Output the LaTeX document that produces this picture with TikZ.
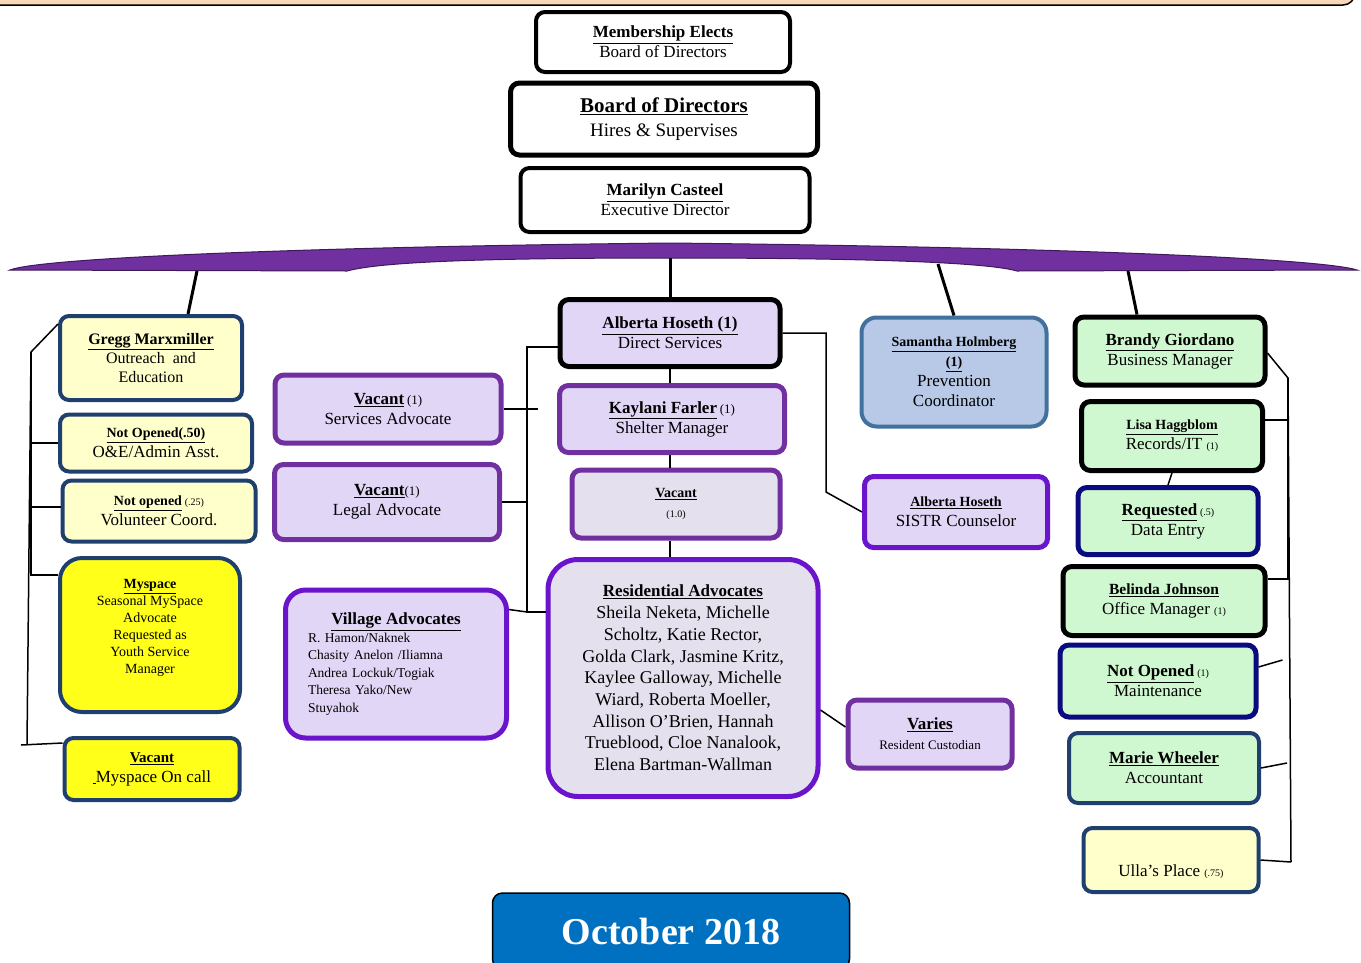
\documentclass[tikz,border=0pt]{standalone}
\usepackage{fontspec}
\setmainfont{Liberation Serif}

\definecolor{peach}{HTML}{FBD7B8}
\definecolor{archpurple}{HTML}{7030A0}
\definecolor{navy}{HTML}{1F3F6E}
\definecolor{deepnavy}{HTML}{0B0B80}
\definecolor{paleyellow}{HTML}{FFFFCC}
\definecolor{brightyellow}{HTML}{FFFF1A}
\definecolor{lav}{HTML}{E2D6F7}
\definecolor{greylav}{HTML}{E5E0EE}
\definecolor{violet}{HTML}{6A14CC}
\definecolor{steel}{HTML}{41719C}
\definecolor{skyfill}{HTML}{B7C9E6}
\definecolor{mint}{HTML}{D0F8D0}
\definecolor{octblue}{HTML}{0070C0}

\newcommand{\hd}[1]{\textbf{\underline{#1}}}
\newcommand{\hds}[1]{{\fontsize{14}{17}\selectfont\textbf{\underline{#1}}}}
\newcommand{\cnt}[1]{{\fontsize{10}{12}\selectfont #1}}
\newcommand{\cntb}[1]{{\fontsize{13}{15}\selectfont #1}}

\tikzset{
  box/.style={draw, line width=4pt, rounded corners=9pt, align=center, inner sep=2pt,
    font=\fontsize{17}{20}\selectfont},
  link/.style={line width=1.5pt},
  stem/.style={line width=3pt},
}

\begin{document}
\begin{tikzpicture}[x=1pt,y=-1pt]
\useasboundingbox (0,0) rectangle (1361,962);
\draw[fill=peach, line width=1.5pt, rounded corners=12pt] (-30,-60) rectangle (1355,5);
\filldraw[fill=archpurple, draw=archpurple!55!black, line width=1pt]
  (10,270) .. controls (40,258) and (300,247) .. (670,243)
  .. controls (1040,247) and (1320,258) .. (1357,270) -- (1017,271)
  .. controls (985,262) and (860,258) .. (670,258)
  .. controls (480,258) and (380,262) .. (347,271) -- cycle;

% top of the chart
\node[box, fill=white, minimum width=254pt, minimum height=60pt] (member) at (663,42)
  {\hd{Membership Elects}\\Board of Directors};
\node[box, fill=white, line width=5pt, minimum width=307pt, minimum height=72pt,
  font=\fontsize{19}{24}\selectfont] (board) at (664,119)
  {{\fontsize{21}{24}\selectfont\hd{Board of Directors}}\\Hires \& Supervises};
\node[box, fill=white, minimum width=289pt, minimum height=64pt] (exec) at (665,200)
  {\hd{Marilyn Casteel}\\Executive Director};

% outreach column
\node[box, draw=navy, fill=paleyellow, minimum width=182pt, minimum height=84pt,
  font=\fontsize{16}{19}\selectfont] (gregg) at (151,358)
  {\hd{Gregg Marxmiller}\\Outreach~ and\\Education};
\node[box, draw=navy, fill=paleyellow, minimum width=192pt, minimum height=57pt] (nopen50) at (156,443)
  {\hds{Not Opened(.50)}\\O\&E/Admin Asst.};
\node[box, draw=navy, fill=paleyellow, minimum width=193pt, minimum height=61pt] (nopen25) at (159,511)
  {\hds{Not opened}\,\cnt{(.25)}\\Volunteer Coord.};
\node[box, draw=navy, fill=brightyellow, rounded corners=22pt, minimum width=180pt, minimum height=154pt,
  font=\fontsize{14}{17}\selectfont] (myspace) at (150,635)
  {\hd{Myspace}\\Seasonal MySpace\\Advocate\\Requested as\\Youth Service\\Manager\\};
\node[box, draw=navy, fill=brightyellow, minimum width=175pt, minimum height=62pt] (oncall) at (152,769)
  {{\fontsize{15}{17}\selectfont\hd{Vacant}}\\\underline{\,}Myspace On call};

% direct services
\node[box, draw=archpurple, fill=lav, line width=5pt, minimum width=226pt, minimum height=68pt] (svcadv) at (388,409)
  {\hd{Vacant}\,\cntb{(1)}\\Services Advocate};
\node[box, draw=archpurple, fill=lav, line width=5pt, minimum width=225pt, minimum height=75pt] (legal) at (387,502)
  {\hd{Vacant}\cntb{(1)}\\Legal Advocate};
\node[box, draw=violet, fill=lav, line width=5pt, rounded corners=20pt, minimum width=221pt, minimum height=148pt,
  align=left, text width=176pt, font=\fontsize{13.5}{17.5}\selectfont] (village) at (396,664)
  {\makebox[176pt]{\fontsize{17}{17.5}\selectfont\hd{Village Advocates}}\\R. Hamon/Naknek\\Chasity Anelon /Iliamna\\
   Andrea Lockuk/Togiak\\Theresa Yako/New\\Stuyahok};
\node[box, fill=lav, line width=5pt, minimum width=220pt, minimum height=67pt] (alberta) at (670,333)
  {\hd{Alberta Hoseth (1)}\\Direct Services};
\node[box, draw=archpurple, fill=lav, line width=5pt, minimum width=225pt, minimum height=67pt] (kaylani) at (672,419)
  {\hd{Kaylani Farler}\,\cntb{(1)}\\Shelter Manager};
\node[box, draw=archpurple, fill=greylav, line width=5pt, minimum width=208pt, minimum height=68pt] (vacant10) at (676,504)
  {\hds{Vacant}\\\cnt{(1.0)}};
\node[box, draw=violet, fill=greylav, line width=5pt, rounded corners=30pt, minimum width=270pt, minimum height=237pt,
  font=\fontsize{18}{21.7}\selectfont] (resid) at (683,678)
  {{\fontsize{17}{20}\selectfont\hd{Residential Advocates}}\\Sheila Neketa, Michelle\\Scholtz, Katie Rector,\\
   Golda Clark, Jasmine Kritz,\\Kaylee Galloway, Michelle\\Wiard, Roberta Moeller,\\Allison O'Brien, Hannah\\
   Trueblood, Cloe Nanalook,\\Elena Bartman-Wallman};
\node[box, draw=archpurple, fill=lav, line width=5pt, minimum width=164pt, minimum height=68pt] (varies) at (930,734)
  {\hd{Varies}\\\cntb{Resident Custodian}};
\node[box, draw=steel, fill=skyfill, rounded corners=15pt, minimum width=185pt, minimum height=109pt] (samantha) at (954,372)
  {\hds{Samantha Holmberg}\\\hds{(1)}\\Prevention\\Coordinator};
\node[box, draw=violet, fill=lav, line width=5pt, minimum width=183pt, minimum height=71pt] (sistr) at (956,512)
  {\hds{Alberta Hoseth}\\SISTR Counselor};

% business column
\node[box, fill=mint, line width=5pt, minimum width=190pt, minimum height=68pt] (brandy) at (1170,351)
  {\hd{Brandy Giordano}\\Business Manager};
\node[box, fill=mint, line width=5pt, minimum width=181pt, minimum height=69pt] (lisa) at (1172,436)
  {\hds{Lisa Haggblom}\\Records/IT \cnt{(1)}};
\node[box, draw=deepnavy, fill=mint, line width=5pt, minimum width=180pt, minimum height=67pt] (reqd) at (1168,521)
  {\hd{Requested}\,\cnt{(.5)}\\Data Entry};
\node[box, fill=mint, line width=5pt, minimum width=202pt, minimum height=69pt] (belinda) at (1164,601)
  {{\fontsize{15.5}{18}\selectfont\hd{Belinda Johnson}}\\Office Manager \cnt{(1)}};
\node[box, draw=deepnavy, fill=mint, line width=5pt, minimum width=196pt, minimum height=72pt] (maint) at (1158,681)
  {\hd{Not Opened}\,\cnt{(1)}\\Maintenance};
\node[box, draw=navy, fill=mint, minimum width=190pt, minimum height=70pt] (marie) at (1164,768)
  {\hd{Marie Wheeler}\\Accountant};
\node[box, draw=navy, fill=paleyellow, minimum width=175pt, minimum height=64pt] (ulla) at (1171,860)
  {\mbox{}\\[16pt]Ulla's Place \cnt{(.75)}};

\node[draw, line width=1.5pt, fill=octblue, rounded corners=10pt, minimum width=357pt, minimum height=76pt,
  text=white, font=\fontsize{38}{40}\selectfont\bfseries] (date) at (671,931) {October 2018};

% stems from the arch
\coordinate (s1) at (197,271);
\coordinate (s2) at (670,258);
\coordinate (s3) at (938,264);
\coordinate (s4) at (1128,271);
\draw[stem] (s1) -- ([xshift=37pt]gregg.north);
\draw[stem] (s2) -- (alberta.north);
\draw[stem] (s3) -- (samantha.north);
\draw[stem] (s4) -- ([xshift=-33pt]brandy.north);

% left bracket
\coordinate (lt) at (31,352);
\coordinate (lb) at (27,745);
\draw[link] ([yshift=-10pt]gregg.north west) -- (lt) -- (lb);
\draw[link] (nopen50.west) -| (lt);
\draw[link] ([yshift=4pt]nopen25.west) -| (lt);
\draw[link] ([yshift=-19pt]myspace.north west) -| (lt);
\draw[link] ([yshift=-7pt]oncall.north west) -- ([xshift=-6pt]lb);

% direct services lines
\coordinate (mb) at (527,612);
\coordinate (ar) at (826,492);
\draw[link] ([yshift=-14pt]alberta.west) -| (mb) -- (mb -| resid.west);
\draw[link] (svcadv.east) -- ++(34,0);
\draw[link] (legal.east) -| (mb);
\draw[link] ([yshift=-22pt]village.north east) -- (mb);
\draw[link] (alberta.east) -| (ar) -- (sistr.west);
\draw[link] ([yshift=-32pt]resid.east) -- ([yshift=7pt]varies.west);
\path[link] (alberta.south) edge (alberta.south |- kaylani.north)
  (alberta.south |- kaylani.south) edge (alberta.south |- vacant10.north)
  (alberta.south |- vacant10.south) edge (alberta.south |- resid.north);

% right bracket
\coordinate (rtop) at (1288,378);
\coordinate (rbot) at (1291,862);
\draw[link] ([yshift=-2pt]brandy.east) -- (rtop) -- (rbot);
\draw[link] ([yshift=16pt]lisa.east) -| (rtop);
\draw[link] (lisa.south) -- (reqd.north);
\draw[link] ([yshift=22pt]belinda.east) -| (rtop);
\draw[link] ([yshift=14pt]maint.east) -- ++(24,-7);
\draw[link] (marie.east) -- ++(26,-5);
\draw[link] (ulla.east) -- (rbot);
\end{tikzpicture}
\end{document}
